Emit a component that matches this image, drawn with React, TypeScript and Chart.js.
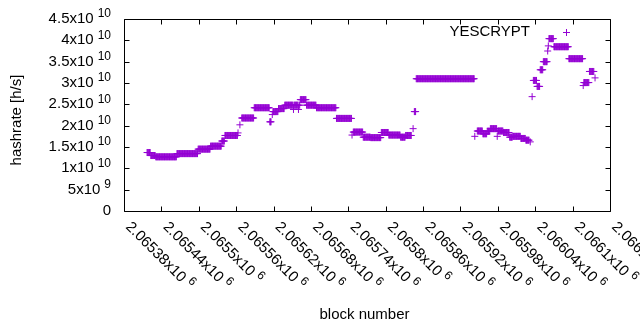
import React, { useEffect, useRef } from "react";
import { Chart, registerables } from "chart.js";

Chart.register(...registerables);

// Runs of consecutive blocks with the same hashrate (value in units of 1e10 h/s)
const runStart = [
  2065417, 2065423, 2065431, 2065465, 2065499, 2065519, 2065537, 2065542, 2065563, 2065566,
  2065569, 2065589, 2065614, 2065618, 2065619, 2065628, 2065638, 2065652, 2065653, 2065660,
  2065661, 2065663, 2065673, 2065689, 2065721, 2065746, 2065748, 2065764, 2065776, 2065793,
  2065805, 2065824, 2065832, 2065844, 2065846, 2065849, 2065943, 2065947, 2065956, 2065963,
  2065968, 2065979, 2065980, 2065989, 2065999, 2066004, 2066017, 2066025, 2066032, 2066035,
  2066037, 2066043, 2066048, 2066053, 2066060, 2066061, 2066062, 2066070, 2066094, 2066117,
  2066118, 2066127, 2066136,
];
const runEnd = [
  2065422, 2065430, 2065464, 2065498, 2065518, 2065536, 2065541, 2065562, 2065563, 2065566,
  2065588, 2065613, 2065616, 2065618, 2065627, 2065637, 2065651, 2065652, 2065659, 2065660,
  2065662, 2065672, 2065688, 2065720, 2065745, 2065746, 2065763, 2065775, 2065792, 2065804,
  2065823, 2065831, 2065841, 2065844, 2065848, 2065942, 2065943, 2065955, 2065962, 2065967,
  2065978, 2065979, 2065988, 2065998, 2066003, 2066016, 2066024, 2066030, 2066032, 2066035,
  2066042, 2066047, 2066052, 2066059, 2066060, 2066061, 2066069, 2066093, 2066116, 2066117,
  2066126, 2066134, 2066136,
];
const runValue = [
  1.37, 1.30, 1.27, 1.345, 1.45, 1.52, 1.64, 1.77, 1.83, 2.02,
  2.18, 2.42, 2.09, 2.26, 2.33, 2.40, 2.48, 2.38, 2.48, 2.38,
  2.48, 2.61, 2.48, 2.42, 2.17, 1.78, 1.85, 1.73, 1.72, 1.84,
  1.78, 1.73, 1.77, 1.93, 2.33, 3.10, 1.75, 1.875, 1.81, 1.87,
  1.93, 1.75, 1.875, 1.84, 1.73, 1.75, 1.70, 1.66, 1.62, 2.68,
  3.06, 2.92, 3.31, 3.50, 3.75, 3.87, 4.04, 3.85, 3.57, 2.94,
  3.01, 3.27, 3.12,
];

const seriesLabel = "YESCRYPT";
const xTitle = "block number";
const yTitle = "hashrate [h/s]";

const yTickValues = [0, 5e9, 1e10, 1.5e10, 2e10, 2.5e10, 3e10, 3.5e10, 4e10, 4.5e10];
const yTickMantissa = ["0", "5x10", "1x10", "1.5x10", "2x10", "2.5x10", "3x10", "3.5x10", "4x10", "4.5x10"];
const yTickExponent = ["", "9", "10", "10", "10", "10", "10", "10", "10", "10"];

const xTickValues = [
  2065380, 2065440, 2065500, 2065560, 2065620, 2065680, 2065740,
  2065800, 2065860, 2065920, 2065980, 2066040, 2066100, 2066160,
];
const xTickMantissa = [
  "2.06538x10", "2.06544x10", "2.0655x10", "2.06556x10", "2.06562x10", "2.06568x10", "2.06574x10",
  "2.0658x10", "2.06586x10", "2.06592x10", "2.06598x10", "2.06604x10", "2.0661x10", "2.06616x10",
];
const xTickExponent = "6";

const COLOR = "#9400d3";
const FONT = '"Liberation Sans", Arial, sans-serif';
const MAIN = `15px ${FONT}`;
const SUP = `12px ${FONT}`;

function drawSup(ctx: CanvasRenderingContext2D, main: string, sup: string, x: number, y: number, align: "left" | "right") {
  ctx.font = MAIN;
  const wm = ctx.measureText(main).width;
  ctx.font = SUP;
  const ws = sup ? ctx.measureText(sup).width : 0;
  const gap = sup ? 4 : 0;
  const total = wm + gap + ws;
  const start = align === "right" ? x - total : x;
  ctx.textAlign = "left";
  ctx.textBaseline = "middle";
  ctx.font = MAIN;
  ctx.fillText(main, start, y);
  if (sup) {
    ctx.font = SUP;
    ctx.fillText(sup, start + wm + gap, y - 5);
  }
}

const framePlugin = {
  id: "gnuplotFrame",
  afterDraw(chart: any) {
    const { ctx, chartArea: a, scales } = chart;
    const xs = scales.x;
    const ys = scales.y;
    const L = Math.round(a.left) + 0.5;
    const R = Math.round(a.right) + 0.5;
    const T = Math.round(a.top) + 0.5;
    const B = Math.round(a.bottom) + 0.5;
    ctx.save();
    ctx.strokeStyle = "#000";
    ctx.lineWidth = 1;
    ctx.beginPath();
    ctx.rect(L, T, R - L, B - T);
    const tl = 5;
    yTickValues.forEach((v) => {
      const y = Math.round(ys.getPixelForValue(v)) + 0.5;
      ctx.moveTo(L, y); ctx.lineTo(L + tl, y);
      ctx.moveTo(R, y); ctx.lineTo(R - tl, y);
    });
    xTickValues.forEach((v) => {
      const x = Math.round(xs.getPixelForValue(v)) + 0.5;
      ctx.moveTo(x, B); ctx.lineTo(x, B - tl);
      ctx.moveTo(x, T); ctx.lineTo(x, T + tl);
    });
    ctx.stroke();

    ctx.fillStyle = "#000";
    // y tick labels
    yTickValues.forEach((v, i) => {
      const y = ys.getPixelForValue(v);
      drawSup(ctx, yTickMantissa[i], yTickExponent[i], 111, y, "right");
    });
    // x tick labels rotated
    xTickValues.forEach((v, i) => {
      const x = xs.getPixelForValue(v);
      ctx.save();
      ctx.translate(x + 4, B + 13);
      ctx.rotate(Math.PI / 4);
      drawSup(ctx, xTickMantissa[i], xTickExponent, 0, 0, "left");
      ctx.restore();
    });
    // axis titles
    ctx.font = MAIN;
    ctx.textAlign = "center";
    ctx.textBaseline = "middle";
    ctx.fillText(xTitle, 364.5, 315);
    ctx.save();
    ctx.translate(16.5, 120);
    ctx.rotate(-Math.PI / 2);
    ctx.fillText(yTitle, 0, 0);
    ctx.restore();
    // key
    ctx.textAlign = "right";
    ctx.fillText(seriesLabel, 530, 31.5);
    ctx.strokeStyle = COLOR;
    ctx.beginPath();
    ctx.moveTo(563, 32.5); ctx.lineTo(570, 32.5);
    ctx.moveTo(566.5, 29); ctx.lineTo(566.5, 36);
    ctx.stroke();
    ctx.restore();
  },
};

export default function App() {
  const ref = useRef<HTMLCanvasElement | null>(null);
  useEffect(() => {
    if (!ref.current) return;
    const points: { x: number; y: number }[] = [];
    runStart.forEach((s, i) => {
      for (let b = s; b <= runEnd[i]; b++) points.push({ x: b, y: runValue[i] * 1e10 });
    });
    const chart = new Chart(ref.current, {
      type: "scatter",
      data: {
        datasets: [
          {
            label: seriesLabel,
            data: points,
            pointStyle: "cross",
            pointRadius: 3.5,
            pointHoverRadius: 3.5,
            borderWidth: 1,
            borderColor: COLOR,
            backgroundColor: COLOR,
            showLine: false,
          },
        ],
      },
      options: {
        animation: false,
        responsive: false,
        devicePixelRatio: 1,
        events: [],
        layout: { padding: { top: 19, right: 30, left: 0, bottom: 0 } },
        plugins: { legend: { display: false }, tooltip: { enabled: false } },
        scales: {
          x: {
            type: "linear",
            min: 2065380,
            max: 2066160,
            grid: { display: false },
            border: { display: false },
            ticks: { display: false },
            afterFit: (s: any) => { s.height = 119; },
          },
          y: {
            type: "linear",
            min: 0,
            max: 4.5e10,
            grid: { display: false },
            border: { display: false },
            ticks: { display: false },
            afterFit: (s: any) => { s.width = 124; },
          },
        },
      },
      plugins: [framePlugin],
    });
    return () => chart.destroy();
  }, []);
  return (
    <div style={{ position: "absolute", left: 0, top: 0, width: 640, height: 330, background: "#fff" }}>
      <canvas ref={ref} width={640} height={330} style={{ display: "block" }} />
    </div>
  );
}
